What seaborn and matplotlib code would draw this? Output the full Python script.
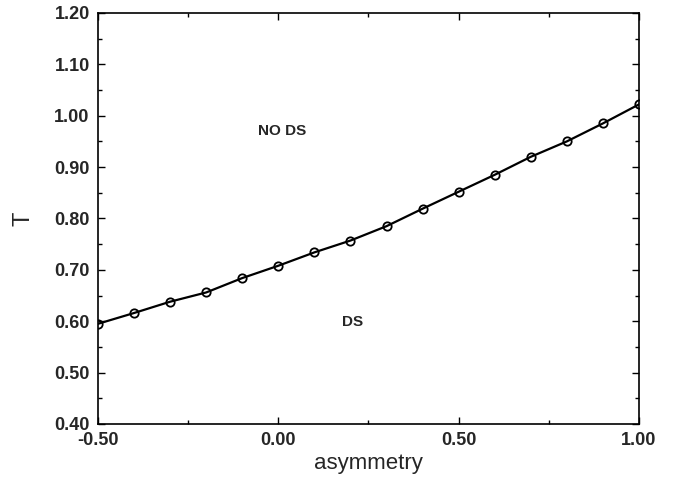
import numpy as np
import pandas as pd
import matplotlib as mpl
mpl.use('Agg')
import matplotlib.pyplot as plt
import seaborn as sns
from matplotlib.ticker import MultipleLocator, FormatStrFormatter

sns.set_theme(style='ticks')
plt.rcParams['font.family'] = ['Liberation Sans', 'DejaVu Sans']

asymmetry = [-0.5, -0.4, -0.3, -0.2, -0.1, 0.0, 0.1, 0.2, 0.3, 0.4, 0.5, 0.6, 0.7, 0.8, 0.9, 1.0]
T = [0.595, 0.616, 0.638, 0.656, 0.684, 0.708, 0.734, 0.757, 0.785, 0.819, 0.852, 0.885, 0.920, 0.950, 0.985, 1.022]

df = pd.DataFrame({'asymmetry': asymmetry, 'T': T})

fig = plt.figure(figsize=(6.74, 4.80), dpi=100)
ax = fig.add_axes([0.1454, 0.1167, 0.8026, 0.8563])

sns.lineplot(data=df, x='asymmetry', y='T', ax=ax, color='black', linewidth=1.6,
             marker='o', markersize=6, markerfacecolor='none', markeredgecolor='black',
             markeredgewidth=1.3)

ax.set_xlim(-0.5, 1.0)
ax.set_ylim(0.4, 1.2)
ax.xaxis.set_major_locator(MultipleLocator(0.5))
ax.xaxis.set_minor_locator(MultipleLocator(0.25))
ax.yaxis.set_major_locator(MultipleLocator(0.1))
ax.yaxis.set_minor_locator(MultipleLocator(0.05))
ax.xaxis.set_major_formatter(FormatStrFormatter('%.2f'))
ax.yaxis.set_major_formatter(FormatStrFormatter('%.2f'))
ax.tick_params(which='both', direction='in', top=True, right=True, color='black')
ax.tick_params(which='major', length=5, width=1)
ax.tick_params(which='minor', length=3, width=1)
ax.tick_params(axis='both', labelsize=13, pad=6)
for lab in ax.get_xticklabels() + ax.get_yticklabels():
    lab.set_fontweight('bold')
for s in ax.spines.values():
    s.set_color('black')
    s.set_linewidth(1.2)

ax.set_xlabel('asymmetry', fontsize=16, labelpad=3)
ax.set_ylabel('T', fontsize=17, labelpad=14)

ax.text(0.01, 0.97, 'NO DS', fontsize=11, fontweight='bold', ha='center', va='center')
ax.text(0.207, 0.598, 'DS', fontsize=11, fontweight='bold', ha='center', va='center')

fig.savefig('out.png', dpi=100)
